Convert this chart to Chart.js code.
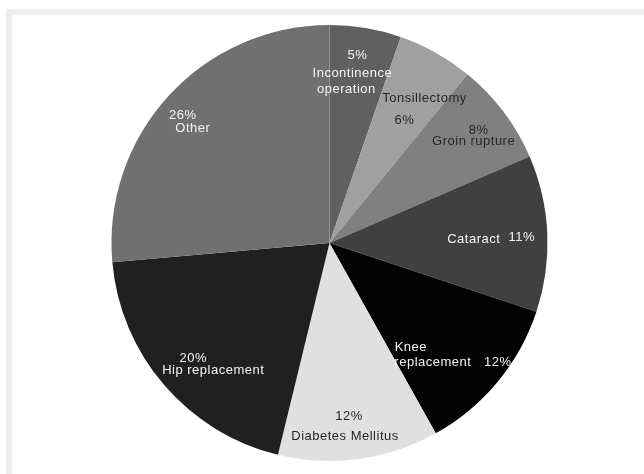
<!DOCTYPE html>
<html>
<head>
<meta charset="utf-8">
<script src="https://cdn.jsdelivr.net/npm/chart.js@4.4.1/dist/chart.umd.min.js"></script>
<style>
  html, body { margin: 0; padding: 0; background: #fff; overflow: hidden; }
  #frame {
    position: absolute; left: 6px; top: 9px;
    width: 700px; height: 600px;
    border: 6px solid #eeeeee; background: #fff;
  }
  #wrap { position: absolute; left: 0; top: 0; width: 644px; height: 474px; }
</style>
</head>
<body>
<div id="frame"></div>
<div id="wrap"><canvas id="pie"></canvas></div>
<script>
// slices, clockwise from 12 o'clock
const categories = ['Incontinence operation', 'Tonsillectomy', 'Groin rupture', 'Cataract',
  'Knee replacement', 'Diabetes Mellitus', 'Hip replacement', 'Other'];
// share of each slice (%)
const shares = [5.3, 5.6, 7.6, 11.6, 11.8, 11.9, 19.8, 26.4];
// printed percentages
const pctLabels = ['5%', '6%', '8%', '11%', '12%', '12%', '20%', '26%'];

const sliceColors = ['#606060', '#a0a0a0', '#808080', '#404040', '#020202', '#e0e0e0', '#202020', '#6f706f'];
const textColors = ['#f4f4f4', '#262626', '#262626', '#f4f4f4', '#f4f4f4', '#262626', '#f4f4f4', '#f4f4f4'];

// label lines, offsets from a point at 80% radius on the slice mid-angle
// 'P' = percentage text, otherwise the literal text
const labelLines = [
  [['P', -1, -16], ['Incontinence', -6, 2], ['operation', -12, 18]],
  [['Tonsillectomy', 10, 8], ['P', -10, 30]],
  [['P', 10, -7], ['Groin rupture', 5, 4]],
  [['Cataract', -30, 4], ['P', 18, 2]],
  [['Knee', -53, -7], ['replacement', -31, 8], ['P', 34, 8]],
  [['P', -4, 1], ['Diabetes Mellitus', -8, 21]],
  [['P', -4, 2], ['Hip replacement', 16, 14]],
  [['P', -18, -10], ['Other', -8, 3]]
];

const sliceLabels = {
  id: 'sliceLabels',
  afterDatasetsDraw(chart) {
    const ctx = chart.ctx;
    const arcs = chart.getDatasetMeta(0).data;
    ctx.save();
    ctx.font = '13px "Liberation Sans", Arial, sans-serif';
    ctx.letterSpacing = '0.5px';
    ctx.textAlign = 'center';
    ctx.textBaseline = 'middle';
    arcs.forEach((arc, i) => {
      const p = arc.getProps(['x', 'y', 'startAngle', 'endAngle', 'outerRadius'], true);
      const mid = (p.startAngle + p.endAngle) / 2;
      const ax = p.x + Math.cos(mid) * p.outerRadius * 0.8;
      const ay = p.y + Math.sin(mid) * p.outerRadius * 0.8;
      ctx.fillStyle = textColors[i];
      labelLines[i].forEach(([txt, dx, dy]) => {
        ctx.fillText(txt === 'P' ? pctLabels[i] : txt, ax + dx, ay + dy);
      });
    });
    ctx.restore();
  }
};

new Chart(document.getElementById('pie').getContext('2d'), {
  type: 'pie',
  data: {
    labels: categories,
    datasets: [{
      data: shares,
      backgroundColor: sliceColors,
      borderWidth: 0
    }]
  },
  options: {
    responsive: true,
    maintainAspectRatio: false,
    animation: false,
    layout: { padding: { top: 25, bottom: 13, left: 111.5, right: 96.5 } },
    plugins: {
      legend: { display: false },
      tooltip: { enabled: false }
    }
  },
  plugins: [sliceLabels]
});
</script>
</body>
</html>
